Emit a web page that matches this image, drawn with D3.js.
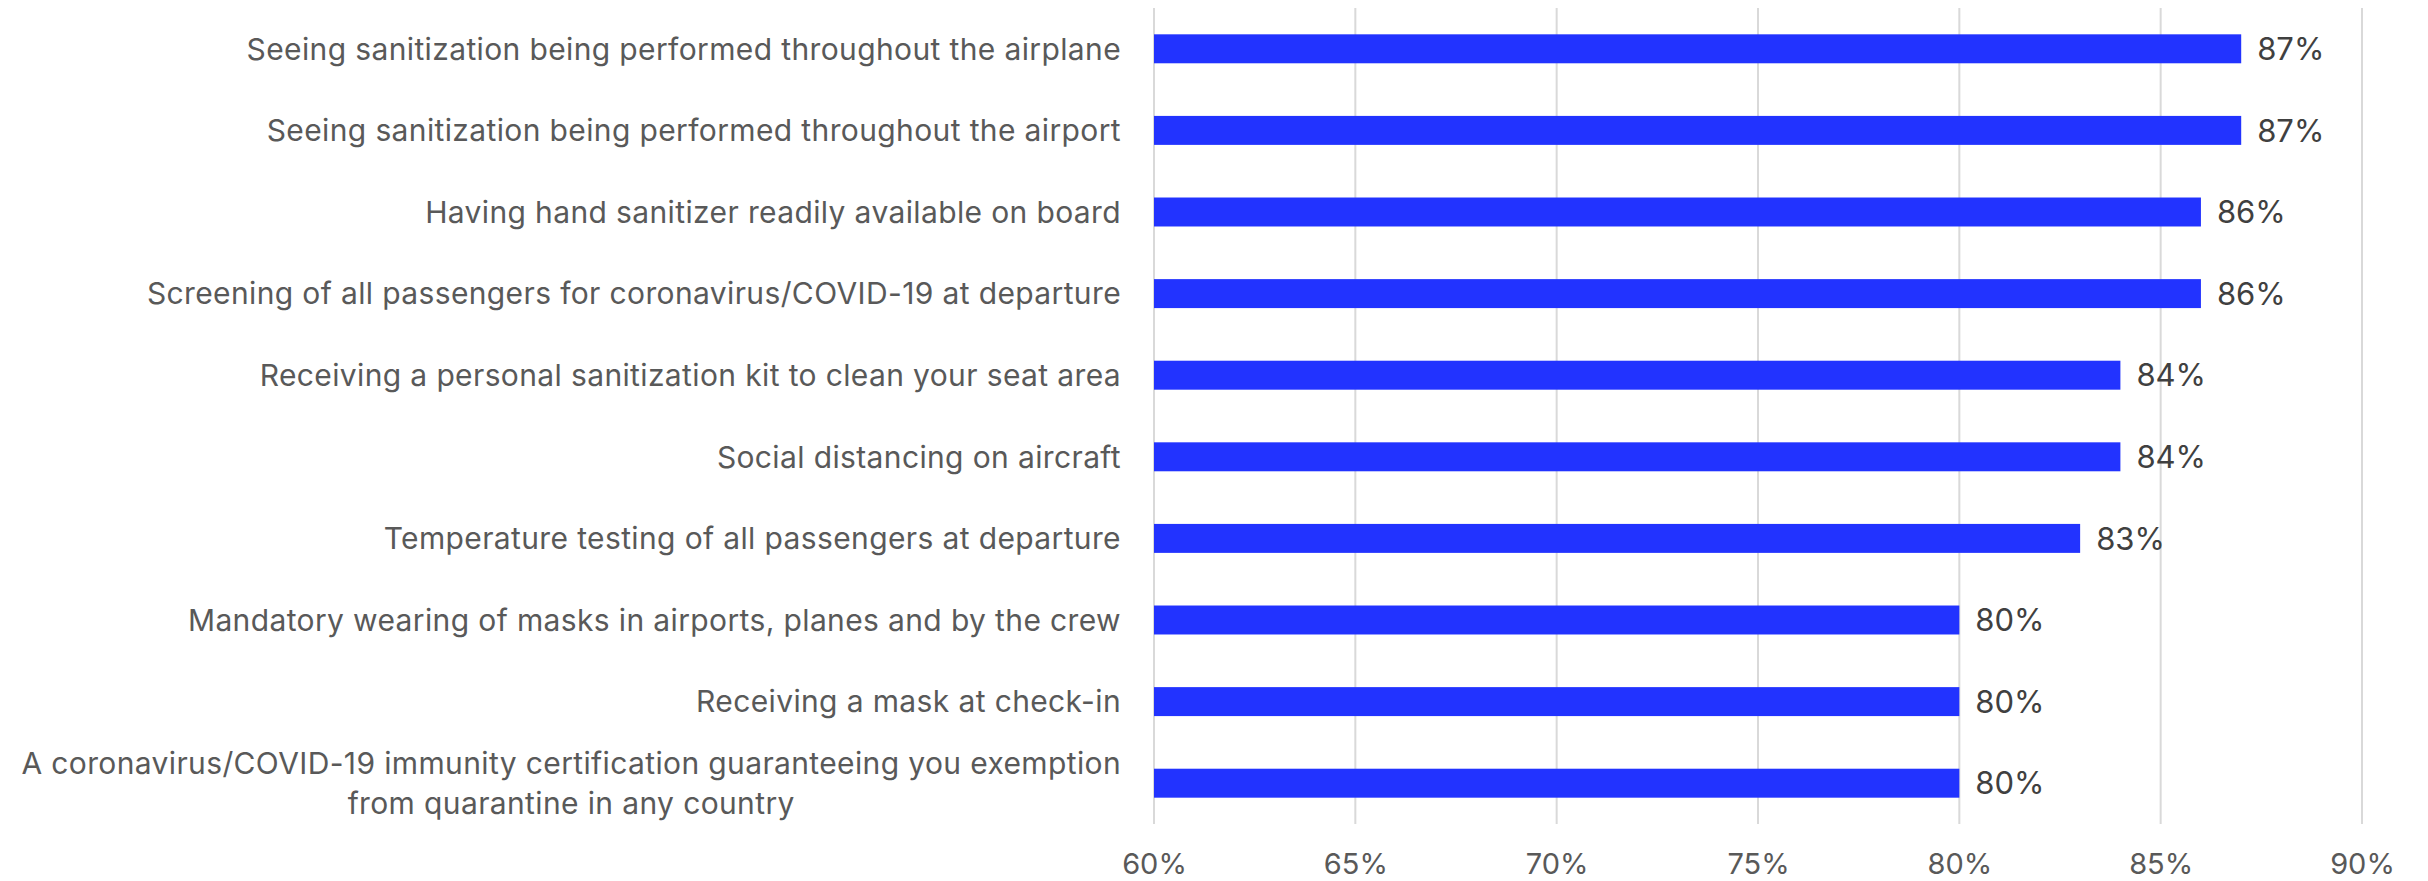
<!DOCTYPE html>
<html>
<head>
<meta charset="utf-8">
<script src="https://cdn.jsdelivr.net/npm/d3@7"></script>
<style>
  html, body { margin: 0; padding: 0; background: #fff; }
  svg { display: block; }
</style>
</head>
<body>
<svg id="chart" width="2428" height="881"></svg>
<script>
const categories = [
  ["Seeing sanitization being performed throughout the airplane"],
  ["Seeing sanitization being performed throughout the airport"],
  ["Having hand sanitizer readily available on board"],
  ["Screening of all passengers for coronavirus/COVID-19 at departure"],
  ["Receiving a personal sanitization kit to clean your seat area"],
  ["Social distancing on aircraft"],
  ["Temperature testing of all passengers at departure"],
  ["Mandatory wearing of masks in airports, planes and by the crew"],
  ["Receiving a mask at check-in"],
  ["A coronavirus/COVID-19 immunity certification guaranteeing you exemption", "from quarantine in any country"]
];
const values = [87, 87, 86, 86, 84, 84, 83, 80, 80, 80];
const tickValues = [60, 65, 70, 75, 80, 85, 90];

const svg = d3.select("#chart");
const margin = { left: 1154, right: 66, top: 8, bottom: 57 };
const W = 2428, H = 881;
const FONT = "Inter, Roboto, 'Liberation Sans', sans-serif";

const x = d3.scaleLinear().domain([60, 90]).range([margin.left, W - margin.right]);
const y = d3.scaleBand().domain(d3.range(categories.length))
  .range([margin.top, H - margin.bottom]).paddingInner(0.645).paddingOuter(0.3225);

// gridlines
svg.append("g").selectAll("line").data(tickValues).join("line")
  .attr("x1", d => x(d)).attr("x2", d => x(d))
  .attr("y1", margin.top).attr("y2", H - margin.bottom)
  .attr("stroke", "#d9d9d9").attr("stroke-width", 2);

// x axis
const xAxis = d3.axisBottom(x).tickValues(tickValues).tickFormat(d => d + "%").tickSize(0).tickPadding(0);
const gx = svg.append("g").attr("transform", `translate(0,${H - margin.bottom})`).call(xAxis);
gx.select(".domain").remove();
gx.selectAll("text").attr("font-family", FONT).attr("font-size", 29).attr("fill", "#595959")
  .attr("dy", null).attr("y", 50);

// bars
svg.append("g").selectAll("rect").data(values).join("rect")
  .attr("x", x(60)).attr("y", (d, i) => y(i))
  .attr("width", d => x(d) - x(60)).attr("height", y.bandwidth())
  .attr("fill", "#2233ff");

// value labels
svg.append("g").selectAll("text").data(values).join("text")
  .attr("x", d => x(d) + 16).attr("y", (d, i) => y(i) + y.bandwidth() / 2)
  .attr("dy", "0.36em")
  .attr("font-family", FONT).attr("font-size", 31).attr("fill", "#404040")
  .text(d => d + "%");

// category labels
const labelRight = x(60) - 33;
const lg = svg.append("g");
categories.forEach((lines, i) => {
  const cy = y(i) + y.bandwidth() / 2;
  const t = lg.append("text").attr("font-family", FONT).attr("font-size", 30)
    .attr("letter-spacing", "0.37px").attr("fill", "#595959");
  const lh = 40;
  lines.forEach((ln, k) => {
    t.append("tspan").attr("x", 0).attr("y", cy + (k - (lines.length - 1) / 2) * lh).attr("dy", "0.36em").text(ln);
  });
  if (lines.length === 1) {
    t.attr("text-anchor", "end").selectAll("tspan").attr("x", labelRight);
  } else {
    let maxW = 0;
    t.selectAll("tspan").each(function() { maxW = Math.max(maxW, this.getComputedTextLength()); });
    t.attr("text-anchor", "middle").selectAll("tspan").attr("x", labelRight - maxW / 2);
  }
});
</script>
</body>
</html>
